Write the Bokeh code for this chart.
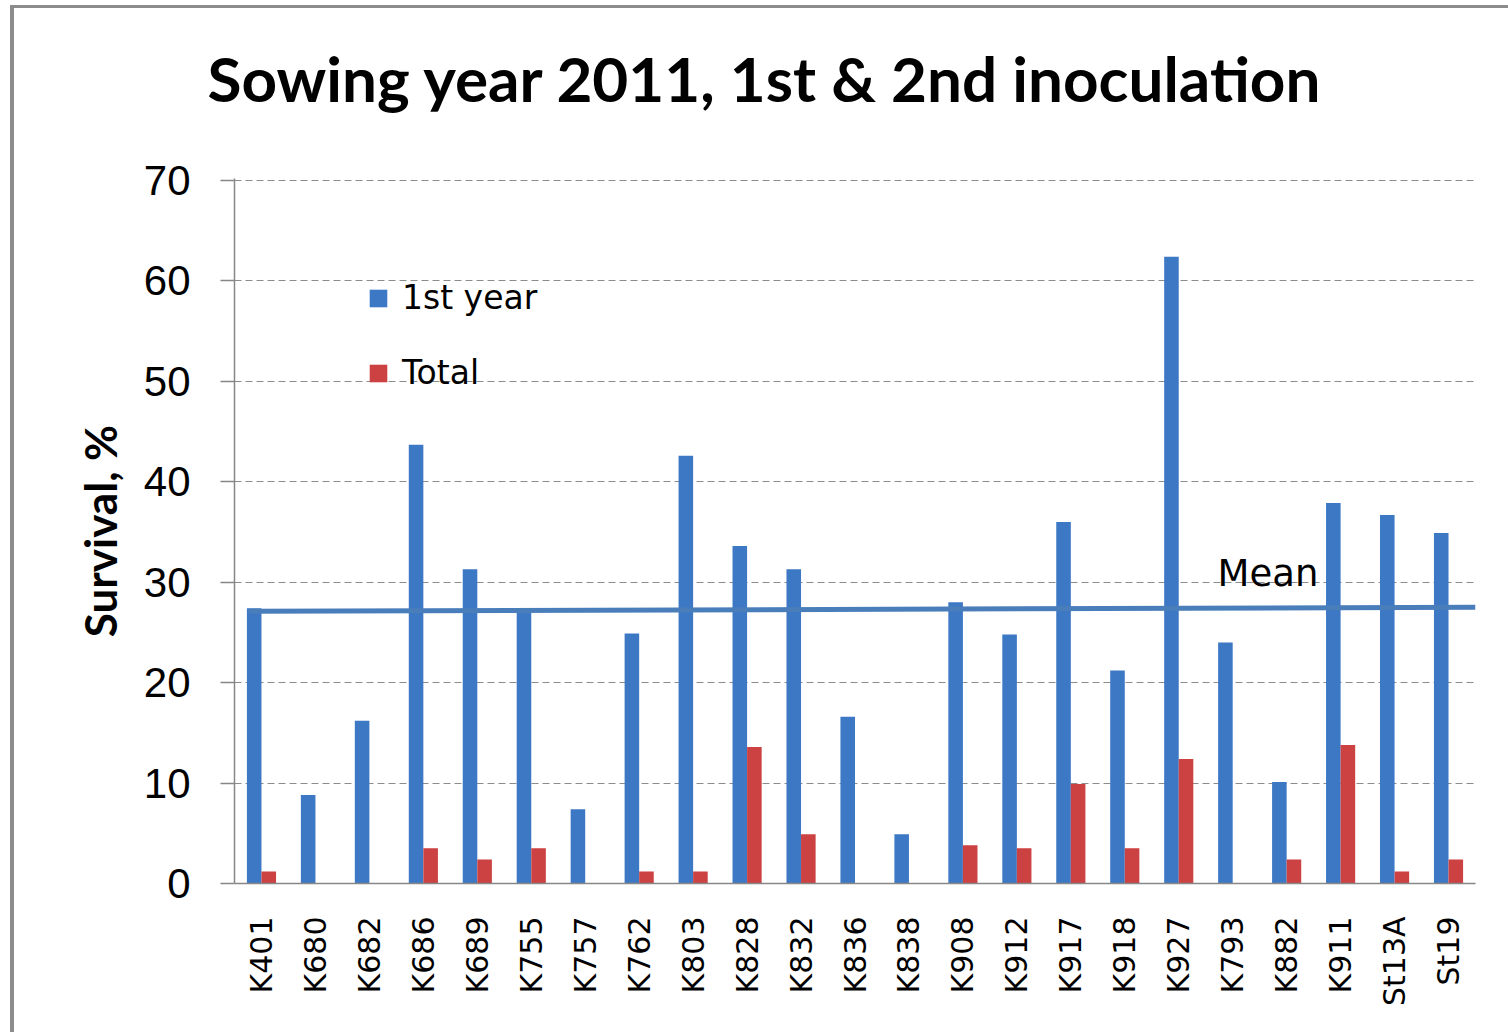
import numpy as np
from bokeh.plotting import figure
from bokeh.models import (ColumnDataSource, FactorRange, Legend, LegendItem, Label,
                          FixedTicker, Spacer, Range1d, Title)
from bokeh.layouts import column, row
from bokeh.transform import dodge
from bokeh.embed import file_html
from bokeh.resources import INLINE

# ---------------- data ----------------
categories = ["K401", "K680", "K682", "K686", "K689", "K755", "K757", "K762",
              "K803", "K828", "K832", "K836", "K838", "K908", "K912", "K917",
              "K918", "K927", "K793", "K882", "K911", "St13A", "St19"]
first_year = [27.4, 8.8, 16.2, 43.7, 31.3, 27.0, 7.4, 24.9,
              42.6, 33.6, 31.3, 16.6, 4.9, 28.0, 24.8, 36.0,
              21.2, 62.4, 24.0, 10.1, 37.9, 36.7, 34.9]
total = [1.2, 0.0, 0.0, 3.5, 2.4, 3.5, 0.0, 1.2,
         1.2, 13.6, 4.9, 0.0, 0.0, 3.8, 3.5, 9.9,
         3.5, 12.4, 0.0, 2.4, 13.8, 1.2, 2.4]
y_ticks = [0, 10, 20, 30, 40, 50, 60, 70]
mean_y = [27.1, 27.5]
mean_label = "Mean"
series_names = ["1st year", "Total"]
title_text = "Sowing year 2011, 1st & 2nd inoculation"

BLUE = "#3D78C5"
RED = "#CC4141"
MEAN_COLOR = "#4A7EBB"

src = ColumnDataSource(dict(cat=categories, first=first_year, total=total))

p = figure(
    x_range=FactorRange(factors=categories, range_padding=0),
    y_range=Range1d(0, 70.2),
    width=1494, height=1024,
    output_backend="svg", toolbar_location=None,
    min_border_left=220, min_border_right=33,
    min_border_top=170, min_border_bottom=149,
    title=None,
)
p.background_fill_color = "white"
p.border_fill_color = "white"
p.outline_line_color = None

# spacer between frame and title, then the title itself
p.add_layout(Title(text=" ", text_font_size="1px", standoff=56), "above")
p.add_layout(Title(text=title_text, text_font="Lato", text_font_style="bold",
                   text_font_size="62px", text_color="black", align="left",
                   offset=-27, standoff=10), "above")

# bars
r1 = p.vbar(x=dodge("cat", -0.135, range=p.x_range), top="first", width=0.27,
            source=src, fill_color=BLUE, line_color=None)
r2 = p.vbar(x=dodge("cat", 0.135, range=p.x_range), top="total", width=0.27,
            source=src, fill_color=RED, line_color=None)

# mean line (hand-drawn in original; slight slope)
mean_src = ColumnDataSource(dict(x=[(categories[0], -0.24), (categories[-1], 0.5)], y=mean_y))
p.line(x="x", y="y", source=mean_src, line_color=MEAN_COLOR, line_width=5)

p.add_layout(Label(x=18.22, y=30.9, text=mean_label, text_font="DejaVu Sans",
                   text_font_size="37px", text_color="black",
                   text_baseline="alphabetic"))

# axes
yax = p.yaxis[0]
yax.ticker = FixedTicker(ticks=y_ticks)
yax.axis_label = "Survival, %"
yax.axis_label_text_font = "Lato"
yax.axis_label_text_font_style = "bold"
yax.axis_label_text_font_size = "44px"
yax.axis_label_text_color = "black"
yax.axis_label_standoff = 15
yax.major_label_text_font = "Liberation Sans"
yax.major_label_text_font_size = "42px"
yax.major_label_text_color = "black"
yax.major_label_standoff = 30
yax.axis_line_color = "#878787"
yax.axis_line_width = 1.5
yax.major_tick_line_color = "#878787"
yax.major_tick_line_width = 1.5
yax.major_tick_out = 14
yax.major_tick_in = 0
yax.minor_tick_line_color = None

xax = p.xaxis[0]
xax.major_label_orientation = np.pi / 2
xax.major_label_text_font = "DejaVu Sans"
xax.major_label_text_font_size = "30px"
xax.major_label_text_color = "black"
xax.major_label_standoff = 27
xax.axis_line_color = "#878787"
xax.axis_line_width = 1.5
xax.major_tick_line_color = None
xax.minor_tick_line_color = None

p.xgrid.grid_line_color = None
p.ygrid.grid_line_color = "#8c8c8c"
p.ygrid.grid_line_dash = "7 4"
p.ygrid.grid_line_width = 1

legend = Legend(items=[LegendItem(label=series_names[0], renderers=[r1]),
                       LegendItem(label=series_names[1], renderers=[r2])],
                location=(133, 491))
legend.label_text_font = "DejaVu Sans"
legend.label_text_font_size = "33px"
legend.label_text_color = "black"
legend.glyph_width = 22
legend.glyph_height = 22
legend.label_standoff = 13
legend.spacing = 36
legend.padding = 0
legend.margin = 0
legend.border_line_color = None
legend.background_fill_alpha = 0
p.add_layout(legend, "center")

GRAY = "#8c8c8c"
layout = column(
    Spacer(width=1508, height=5),
    row(
        Spacer(width=10, height=1027),
        Spacer(width=4, height=1027, styles={"background-color": GRAY}),
        column(Spacer(width=1494, height=3, styles={"background-color": GRAY}), p),
    ),
)

open("out.html", "w").write(file_html(layout, INLINE))
